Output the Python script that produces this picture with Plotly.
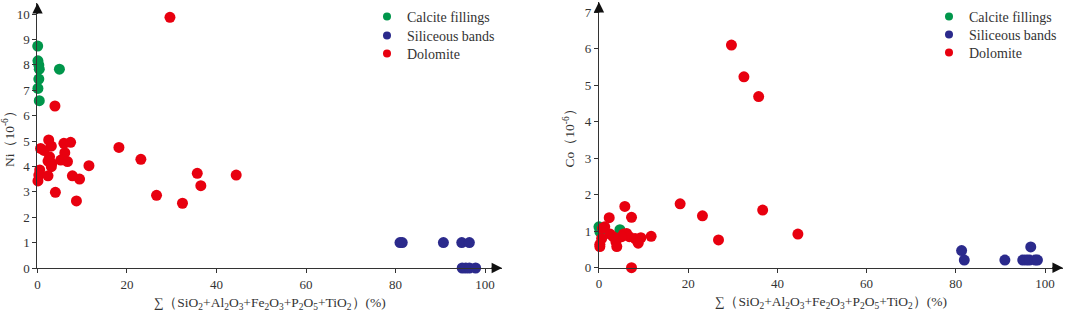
import plotly.graph_objects as go

# ---- Left panel: Ni vs sum of oxides ----
ni_calcite_x = [0.05, 0.1, 0.3, 0.4, 0.3, 0.1, 0.4, 4.9]
ni_calcite_y = [8.74, 8.16, 7.99, 7.83, 7.44, 7.07, 6.59, 7.83]

ni_silic_x = [81.0, 81.5, 90.7, 94.8, 96.5, 94.9, 95.7, 96.5, 97.9]
ni_silic_y = [1.0, 1.0, 1.0, 1.0, 1.0, 0.0, 0.0, 0.0, 0.0]

ni_dolo_x = [29.6, 3.9, 2.5, 3.1, 0.7, 1.45, 5.9, 7.4, 6.1, 2.7, 2.35, 3.2, 3.1,
             5.2, 6.7, 11.5, 18.2, 23.1, 0.5, 0.3, 0.1, 2.35, 7.8, 9.4, 4.0,
             8.7, 26.6, 32.4, 35.7, 36.5, 44.4]
ni_dolo_y = [9.87, 6.38, 5.04, 4.80, 4.71, 4.63, 4.91, 4.95, 4.54, 4.38, 4.21,
             4.12, 3.99, 4.25, 4.19, 4.03, 4.75, 4.28, 3.86, 3.66, 3.43, 3.63,
             3.63, 3.50, 2.98, 2.64, 2.86, 2.55, 3.73, 3.24, 3.66]

# ---- Right panel: Co vs sum of oxides ----
co_calcite_x = [0.0, 0.2, 4.7]
co_calcite_y = [1.12, 0.99, 1.04]

co_silic_x = [81.3, 81.9, 91.0, 95.0, 95.8, 96.5, 97.8, 98.3, 96.8]
co_silic_y = [0.47, 0.21, 0.21, 0.21, 0.21, 0.21, 0.21, 0.21, 0.57]

co_dolo_x = [29.7, 32.5, 35.8, 23.2, 26.8, 36.7, 44.6, 5.8, 7.3, 2.3, 18.2,
             1.3, 0.8, 2.5, 5.5, 6.2, 6.8, 5.1, 8.1, 9.4, 8.8, 11.7, 3.2,
             3.8, 4.0, 0.6, 0.2, 0.2, 7.3]
co_dolo_y = [6.10, 5.23, 4.69, 1.42, 0.76, 1.58, 0.92, 1.68, 1.38, 1.37, 1.75,
             1.12, 1.08, 0.92, 0.92, 0.94, 0.85, 0.85, 0.80, 0.82, 0.67, 0.86,
             0.85, 0.71, 0.58, 0.80, 0.64, 0.58, 0.0]

series_names = ["Calcite fillings", "Siliceous bands", "Dolomite"]
colors = ["#00964B", "#2B2A8C", "#E8000F"]

x_ticks = [0, 20, 40, 60, 80, 100]
ni_ticks = list(range(0, 11))
co_ticks = list(range(0, 8))

FONT = "Liberation Serif"
AX = "#333333"
TXT = "#333333"

fig = go.Figure()

left = [(ni_calcite_x, ni_calcite_y), (ni_silic_x, ni_silic_y), (ni_dolo_x, ni_dolo_y)]
right = [(co_calcite_x, co_calcite_y), (co_silic_x, co_silic_y), (co_dolo_x, co_dolo_y)]

for i in range(3):
    xs, ys = left[i]
    fig.add_trace(go.Scatter(x=xs, y=ys, mode="markers", xaxis="x", yaxis="y",
                             marker=dict(color=colors[i], size=11, line=dict(width=0)),
                             showlegend=False, cliponaxis=False, hoverinfo="skip"))
for i in range(3):
    xs, ys = right[i]
    fig.add_trace(go.Scatter(x=xs, y=ys, mode="markers", xaxis="x2", yaxis="y2",
                             marker=dict(color=colors[i], size=11, line=dict(width=0)),
                             showlegend=False, cliponaxis=False, hoverinfo="skip"))

# legend entries: one small legend per row so the row spacing matches the original
legend_layouts = {}
rows_left = [0.9459, 0.8854, 0.8280]
rows_right = [0.9459, 0.8885, 0.8312]
k = 1
for panel, (lx, rows, xa, ya) in enumerate([(0.3446, rows_left, "x", "y"),
                                           (0.8723, rows_right, "x2", "y2")]):
    for name, c, ry in zip(series_names, colors, rows):
        lname = "legend" if k == 1 else f"legend{k}"
        fig.add_trace(go.Scatter(x=[None], y=[None], mode="markers", name=name,
                                 xaxis=xa, yaxis=ya, legend=lname,
                                 marker=dict(color=c, size=8)))
        legend_layouts[lname] = dict(x=lx, y=ry, xanchor="left", yanchor="middle",
                                     bgcolor="rgba(0,0,0,0)", itemwidth=30,
                                     borderwidth=0,
                                     font=dict(family=FONT, size=14, color=TXT))
        k += 1

common_axis = dict(showline=True, linecolor=AX, linewidth=1.3, ticks="outside",
                   ticklen=4, tickcolor=AX, tickwidth=1.2, showgrid=False,
                   zeroline=False, automargin=False,
                   tickfont=dict(family=FONT, size=13, color=TXT))

xtitle = "∑（SiO<sub>2</sub>+Al<sub>2</sub>O<sub>3</sub>+Fe<sub>2</sub>O<sub>3</sub>+P<sub>2</sub>O<sub>5</sub>+TiO<sub>2</sub>）(%)"
tfont = dict(family=FONT, size=13.5, color=TXT)

fig.update_layout(
    width=1065, height=314,
    margin=dict(l=0, r=0, t=0, b=0),
    paper_bgcolor="white", plot_bgcolor="white",
    font=dict(family=FONT, size=13, color=TXT),
    xaxis=dict(domain=[0.0352, 0.4714], range=[0, 103.8], tickvals=x_ticks,
               anchor="y", title=dict(text=xtitle, standoff=6, font=tfont),
               **common_axis),
    yaxis=dict(domain=[0.1465, 0.990], range=[0, 10.43], tickvals=ni_ticks,
               anchor="x", title=dict(text="Ni（10<sup>-6</sup>）", standoff=6, font=tfont),
               **common_axis),
    xaxis2=dict(domain=[0.5624, 0.998], range=[0, 104], tickvals=x_ticks,
                anchor="y2", title=dict(text=xtitle, standoff=6, font=tfont),
                **common_axis),
    yaxis2=dict(domain=[0.1475, 0.9936], range=[0, 7.28], tickvals=co_ticks,
                anchor="x2", title=dict(text="Co（10<sup>-6</sup>）", standoff=6, font=tfont),
                **common_axis),
    **legend_layouts,
)

# arrowheads at the ends of the axes
arrow = dict(text="", showarrow=True, arrowhead=2, arrowsize=1.6, arrowwidth=1.3,
             arrowcolor="#111111", axref="pixel", ayref="pixel")
fig.add_annotation(x=103.8, y=0, xref="x", yref="y", ax=-12, ay=0, **arrow)
fig.add_annotation(x=0, y=10.43, xref="x", yref="y", ax=0, ay=12, **arrow)
fig.add_annotation(x=104, y=0, xref="x2", yref="y2", ax=-12, ay=0, **arrow)
fig.add_annotation(x=0, y=7.28, xref="x2", yref="y2", ax=0, ay=12, **arrow)

fig.write_html("out.html", config={"displayModeBar": False},
               post_script="document.body.style.margin='0';document.body.style.overflow='hidden';")
